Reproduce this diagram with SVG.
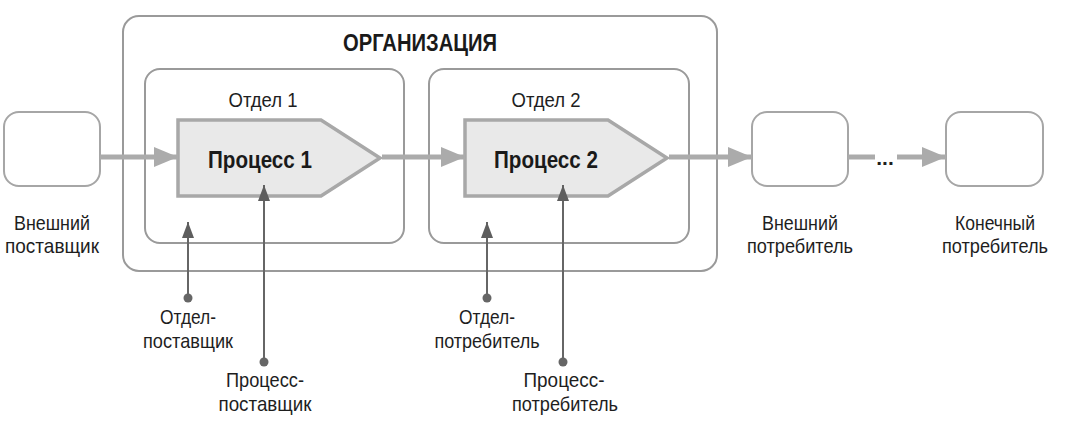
<svg xmlns="http://www.w3.org/2000/svg" width="1077" height="434" viewBox="0 0 1077 434">
<style>
.box{fill:#fff;stroke:#a6a6a6;stroke-width:2}
.grp{fill:none;stroke:#9a9a9a;stroke-width:2}
.proc{fill:#e9e9e9;stroke:#a8a8a8;stroke-width:3.5}
.t{font-family:"Liberation Sans",Arial,sans-serif;font-size:21px;fill:#1e1e1e;text-anchor:middle}
.tb{font-family:"Liberation Sans",Arial,sans-serif;font-size:23px;font-weight:bold;fill:#1a1a1a;text-anchor:middle}
.flow{fill:none;stroke:#ababab;stroke-width:5;marker-end:url(#ah)}
.flown{fill:none;stroke:#ababab;stroke-width:5}
.inp{fill:none;stroke:#666;stroke-width:2;marker-end:url(#ad)}
.dot{fill:#666}
</style>
<defs>
<marker id="ah" markerUnits="userSpaceOnUse" markerWidth="24" markerHeight="20" refX="24" refY="10" orient="auto">
<path d="M0,0 L24,10 L0,20 z" fill="#ababab"/>
</marker>
<marker id="ad" markerUnits="userSpaceOnUse" markerWidth="16" markerHeight="12" refX="16" refY="6" orient="auto">
<path d="M0,0 L16,6 L0,12 z" fill="#5e5e5e"/>
</marker>
</defs>
<g id="org">
<rect class="grp" x="123" y="16" width="594" height="255" rx="16"/>
<text class="tb" x="420" y="51" font-size="24" textLength="154" lengthAdjust="spacingAndGlyphs">ОРГАНИЗАЦИЯ</text>
</g>
<g id="dept1">
<rect class="grp" x="145" y="69" width="259" height="174" rx="15"/>
<text class="t" x="263" y="107" textLength="69" lengthAdjust="spacingAndGlyphs">Отдел 1</text>
</g>
<g id="dept2">
<rect class="grp" x="429" y="69" width="260" height="174" rx="15"/>
<text class="t" x="546" y="107" textLength="69" lengthAdjust="spacingAndGlyphs">Отдел 2</text>
</g>
<g id="process1">
<path class="proc" d="M178,120 L321,120 L380,158 L321,196 L178,196 Z"/>
<text class="tb" x="260" y="168" textLength="104" lengthAdjust="spacingAndGlyphs">Процесс 1</text>
</g>
<g id="process2">
<path class="proc" d="M465,120 L608,120 L667,158 L608,196 L465,196 Z"/>
<text class="tb" x="546" y="168" textLength="104" lengthAdjust="spacingAndGlyphs">Процесс 2</text>
</g>
<g id="ext-supplier">
<rect class="box" x="4" y="112" width="96" height="74" rx="15"/>
<text class="t" x="52" y="230" textLength="76" lengthAdjust="spacingAndGlyphs">Внешний</text>
<text class="t" x="52" y="253" textLength="94" lengthAdjust="spacingAndGlyphs">поставщик</text>
</g>
<g id="ext-consumer">
<rect class="box" x="752" y="112" width="96" height="74" rx="15"/>
<text class="t" x="800" y="230" textLength="76" lengthAdjust="spacingAndGlyphs">Внешний</text>
<text class="t" x="800" y="253" textLength="106" lengthAdjust="spacingAndGlyphs">потребитель</text>
</g>
<g id="end-consumer">
<rect class="box" x="946" y="112" width="97" height="74" rx="15"/>
<text class="t" x="995" y="230" textLength="80" lengthAdjust="spacingAndGlyphs">Конечный</text>
<text class="t" x="995" y="253" textLength="106" lengthAdjust="spacingAndGlyphs">потребитель</text>
</g>
<g id="dept-supplier">
<circle class="dot" cx="188" cy="298" r="4.5"/>
<text class="t" x="188" y="324" textLength="56" lengthAdjust="spacingAndGlyphs">Отдел-</text>
<text class="t" x="188" y="348" textLength="90" lengthAdjust="spacingAndGlyphs">поставщик</text>
</g>
<g id="process-supplier">
<circle class="dot" cx="264" cy="362" r="4.5"/>
<text class="t" x="265" y="387" textLength="78" lengthAdjust="spacingAndGlyphs">Процесс-</text>
<text class="t" x="265" y="411" textLength="93" lengthAdjust="spacingAndGlyphs">поставщик</text>
</g>
<g id="dept-consumer">
<circle class="dot" cx="487" cy="298" r="4.5"/>
<text class="t" x="487" y="324" textLength="56" lengthAdjust="spacingAndGlyphs">Отдел-</text>
<text class="t" x="487" y="348" textLength="105" lengthAdjust="spacingAndGlyphs">потребитель</text>
</g>
<g id="process-consumer">
<circle class="dot" cx="563" cy="362" r="4.5"/>
<text class="t" x="564" y="387" textLength="81" lengthAdjust="spacingAndGlyphs">Процесс-</text>
<text class="t" x="565" y="411" textLength="106" lengthAdjust="spacingAndGlyphs">потребитель</text>
</g>
<g id="connectors">
<path class="flow" d="M100,157 L178,157"/>
<path class="flow" d="M382,157 L465,157"/>
<path class="flow" d="M669,157 L752,157"/>
<path class="flown" d="M848,157 L875,157"/>
<text class="t" x="885" y="165" font-size="18" font-weight="bold">...</text>
<path class="flow" d="M897,157 L946,157"/>
<path class="inp" d="M188,298 L188,222"/>
<path class="inp" d="M264,362 L264,185"/>
<path class="inp" d="M487,298 L487,222"/>
<path class="inp" d="M563,362 L563,185"/>
</g>
</svg>
